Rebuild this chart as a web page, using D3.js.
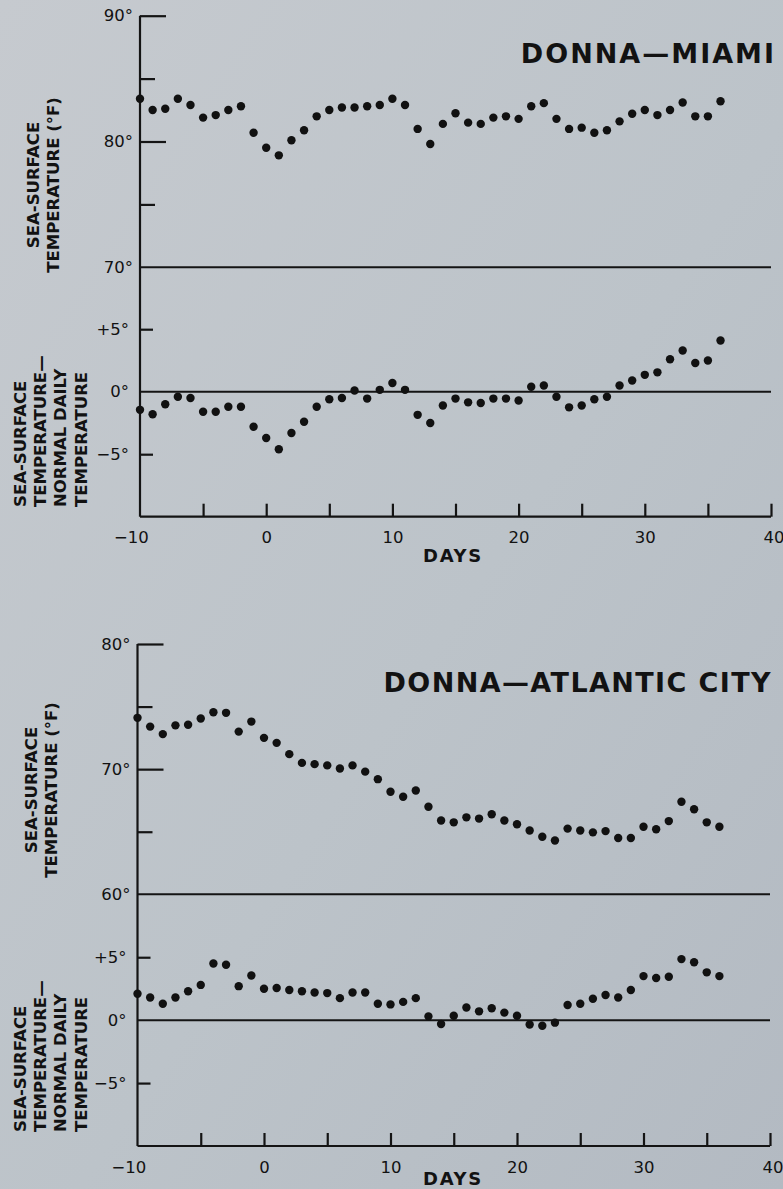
<!DOCTYPE html>
<html>
<head>
<meta charset="utf-8">
<script src="https://cdn.jsdelivr.net/npm/d3@7"></script>
<style>
  html, body { margin: 0; padding: 0; background: #bec4ca; }
  svg { display: block; }
  text { font-family: "DejaVu Sans", "Liberation Sans", Arial, sans-serif; fill: #121212; }
</style>
</head>
<body>
<svg id="chart" width="783" height="1189"></svg>
<script>
// Days relative to landfall of Hurricane Donna
const days = [-10, -9, -8, -7, -6, -5, -4, -3, -2, -1, 0, 1, 2, 3, 4, 5, 6, 7, 8, 9, 10,
  11, 12, 13, 14, 15, 16, 17, 18, 19, 20, 21, 22, 23, 24, 25, 26, 27, 28, 29, 30,
  31, 32, 33, 34, 35, 36];

// Miami: sea-surface temperature (°F) and departure from normal daily temperature
const miamiTemp = [83.4, 82.5, 82.6, 83.4, 82.9, 81.9, 82.1, 82.5, 82.8, 80.7, 79.5,
  78.9, 80.1, 80.9, 82.0, 82.5, 82.7, 82.7, 82.8, 82.9, 83.4,
  82.9, 81.0, 79.8, 81.4, 82.25, 81.5, 81.4, 81.9, 82.0, 81.8,
  82.8, 83.05, 81.8, 81.0, 81.1, 80.7, 80.9, 81.6, 82.2, 82.5,
  82.1, 82.5, 83.1, 82.0, 82.0, 83.2];
const miamiAnom = [-1.45, -1.8, -1.0, -0.4, -0.5, -1.6, -1.6, -1.2, -1.2, -2.8, -3.7,
  -4.6, -3.3, -2.4, -1.2, -0.6, -0.5, 0.1, -0.55, 0.15, 0.7,
  0.15, -1.85, -2.5, -1.1, -0.55, -0.85, -0.9, -0.55, -0.55, -0.7,
  0.4, 0.5, -0.4, -1.25, -1.1, -0.6, -0.4, 0.5, 0.9, 1.35,
  1.55, 2.6, 3.3, 2.3, 2.5, 4.1];

// Atlantic City: sea-surface temperature (°F) and departure from normal
const atlanticTemp = [74.1, 73.4, 72.8, 73.5, 73.55, 74.05, 74.55, 74.5, 73.0, 73.8, 72.5,
  72.1, 71.2, 70.5, 70.4, 70.3, 70.05, 70.3, 69.8, 69.2, 68.2,
  67.8, 68.3, 67.0, 65.9, 65.75, 66.15, 66.05, 66.4, 65.9, 65.6,
  65.1, 64.6, 64.3, 65.25, 65.1, 64.95, 65.05, 64.5, 64.5, 65.4,
  65.2, 65.85, 67.4, 66.8, 65.75, 65.4];
const atlanticAnom = [2.1, 1.8, 1.3, 1.8, 2.3, 2.8, 4.5, 4.4, 2.7, 3.55, 2.5,
  2.55, 2.4, 2.3, 2.2, 2.15, 1.75, 2.2, 2.2, 1.3, 1.25,
  1.45, 1.75, 0.3, -0.3, 0.35, 1.0, 0.7, 0.95, 0.6, 0.35,
  -0.35, -0.45, -0.2, 1.2, 1.3, 1.7, 2.0, 1.8, 2.4, 3.5,
  3.35, 3.45, 4.85, 4.6, 3.8, 3.5];

// Axis ticks and labels
const dayTicks = [-5, 0, 5, 10, 15, 20, 25, 30, 35, 40];
const dayLabelValues = [-10, 0, 10, 20, 30, 40];
const miamiMajorTicks = [80, 90];
const miamiMinorTicks = [75, 85];
const miamiTempLabels = [70, 80, 90];
const atlanticMajorTicks = [70, 80];
const atlanticMinorTicks = [65, 75];
const atlanticTempLabels = [60, 70, 80];
const anomTicks = [-5, 5];
const anomLabels = [-5, 0, 5];

const fmtDay = d => d < 0 ? "\u2212" + Math.abs(d) : String(d);
const fmtTemp = d => d + "\u00B0";
const fmtAnom = d => d > 0 ? "+" + d + "\u00B0" : d < 0 ? "\u2212" + Math.abs(d) + "\u00B0" : "0\u00B0";

const svg = d3.select("#chart");

// soft paper-like background
const defs = svg.append("defs");
const grad = defs.append("linearGradient").attr("id", "paper")
  .attr("x1", "0").attr("y1", "0").attr("x2", "1").attr("y2", "1");
grad.append("stop").attr("offset", "0%").attr("stop-color", "#c6cacf");
grad.append("stop").attr("offset", "55%").attr("stop-color", "#bcc3c9");
grad.append("stop").attr("offset", "100%").attr("stop-color", "#b3bac2");
svg.append("rect").attr("width", 783).attr("height", 1189).attr("fill", "url(#paper)");

const panels = [
  {
    title: "DONNA\u2014MIAMI", temp: miamiTemp, anom: miamiAnom,
    tempDomain: [70, 90], majors: miamiMajorTicks, minors: miamiMinorTicks, tempLabels: miamiTempLabels,
    xRange: [140, 771], tempRange: [267.3, 15.7], anomRange: [516.7, 266.7],
    titleX: 776, titleY: 63, titleSpacing: 2,
    tempLabelX: [38.5, 58.5], tempLabelY: 185,
    anomLabelX: [26, 46, 66, 87], anomLabelY: 507,
    daysY: 562
  },
  {
    title: "DONNA\u2014ATLANTIC CITY", temp: atlanticTemp, anom: atlanticAnom,
    tempDomain: [60, 80], majors: atlanticMajorTicks, minors: atlanticMinorTicks, tempLabels: atlanticTempLabels,
    xRange: [137.5, 770], tempRange: [894.3, 644], anomRange: [1146, 894.3],
    titleX: 772, titleY: 692, titleSpacing: 1.4,
    tempLabelX: [37, 56.5], tempLabelY: 790,
    anomLabelX: [26, 46, 66, 87], anomLabelY: 1132,
    daysY: 1185
  }
];

const stroke = "#141414";

panels.forEach(p => {
  const x = d3.scaleLinear().domain([-10, 40]).range(p.xRange);
  const yT = d3.scaleLinear().domain(p.tempDomain).range(p.tempRange);
  const yA = d3.scaleLinear().domain([-10, 10]).range(p.anomRange);
  const g = svg.append("g");
  const x0 = x(-10);

  // vertical axis spanning both plots
  g.append("line")
    .attr("x1", x0).attr("x2", x0)
    .attr("y1", yT(p.tempDomain[1])).attr("y2", yA(-10))
    .attr("stroke", stroke).attr("stroke-width", 2.2);

  // separating line at the temperature baseline and zero-anomaly line
  g.append("line")
    .attr("x1", x0).attr("x2", x(40))
    .attr("y1", yT(p.tempDomain[0])).attr("y2", yT(p.tempDomain[0]))
    .attr("stroke", stroke).attr("stroke-width", 2);
  g.append("line")
    .attr("x1", x0).attr("x2", x(40))
    .attr("y1", yA(0)).attr("y2", yA(0))
    .attr("stroke", stroke).attr("stroke-width", 2);

  // temperature ticks (long majors, short minors)
  const majorAxis = d3.axisRight(yT).tickValues(p.majors).tickSize(26).tickFormat("");
  const minorAxis = d3.axisRight(yT).tickValues(p.minors).tickSize(15).tickFormat("");
  [majorAxis, minorAxis].forEach(ax => {
    const a = g.append("g").attr("transform", `translate(${x0},0)`).call(ax);
    a.select(".domain").remove();
    a.selectAll("line").attr("stroke", stroke).attr("stroke-width", 2.2);
  });
  const tempLab = g.append("g").attr("transform", `translate(${x0},0)`)
    .call(d3.axisLeft(yT).tickValues(p.tempLabels).tickSize(0).tickPadding(7).tickFormat(fmtTemp));
  tempLab.select(".domain").remove();
  tempLab.selectAll("text").attr("font-size", 16.5).attr("fill", "#121212").attr("font-family", null);

  // anomaly ticks and labels
  const anomAxis = g.append("g").attr("transform", `translate(${x0},0)`)
    .call(d3.axisRight(yA).tickValues(anomTicks).tickSize(13).tickFormat(""));
  anomAxis.select(".domain").remove();
  anomAxis.selectAll("line").attr("stroke", stroke).attr("stroke-width", 2.2);
  const anomLab = g.append("g").attr("transform", `translate(${x0},0)`)
    .call(d3.axisLeft(yA).tickValues(anomLabels).tickSize(0).tickPadding(11).tickFormat(fmtAnom));
  anomLab.select(".domain").remove();
  anomLab.selectAll("text").attr("font-size", 16.5).attr("fill", "#121212").attr("font-family", null);

  // day axis with upward ticks
  const xAxis = g.append("g").attr("transform", `translate(0,${yA(-10)})`)
    .call(d3.axisBottom(x).tickValues(dayTicks).tickSizeInner(-13).tickSizeOuter(0).tickFormat(""));
  xAxis.select(".domain").attr("stroke", stroke).attr("stroke-width", 2.2)
    .attr("d", `M${x0},0H${x(40)}`);
  xAxis.selectAll("line").attr("stroke", stroke).attr("stroke-width", 2.2);
  const xLab = g.append("g").attr("transform", `translate(0,${yA(-10)})`)
    .call(d3.axisBottom(x).tickValues(dayLabelValues).tickSize(0).tickPadding(15).tickFormat(fmtDay));
  xLab.select(".domain").remove();
  xLab.selectAll("text").attr("font-size", 16.5).attr("fill", "#121212").attr("font-family", null)
    .attr("dx", d => d < 0 ? "-0.55em" : d === 40 ? "0.15em" : 0);

  g.append("text")
    .attr("x", 453).attr("y", p.daysY)
    .attr("text-anchor", "middle").attr("font-size", 18).attr("font-weight", 700)
    .attr("letter-spacing", 1.7)
    .text("DAYS");

  // title
  g.append("text")
    .attr("x", p.titleX).attr("y", p.titleY)
    .attr("text-anchor", "end").attr("font-size", 27).attr("font-weight", 700)
    .attr("letter-spacing", p.titleSpacing)
    .text(p.title);

  // rotated y labels
  const tempLines = ["SEA-SURFACE", "TEMPERATURE (\u00B0F)"];
  tempLines.forEach((t, i) => {
    g.append("text")
      .attr("transform", `translate(${p.tempLabelX[i]},${p.tempLabelY}) rotate(-90)`)
      .attr("text-anchor", "middle").attr("font-size", 16.5).attr("font-weight", 700)
      .text(t);
  });
  const anomLines = ["SEA-SURFACE", "TEMPERATURE\u2014", "NORMAL DAILY", "TEMPERATURE"];
  anomLines.forEach((t, i) => {
    g.append("text")
      .attr("transform", `translate(${p.anomLabelX[i]},${p.anomLabelY}) rotate(-90)`)
      .attr("text-anchor", "start").attr("font-size", 16.5).attr("font-weight", 700)
      .text(t);
  });

  // data points
  g.append("g").selectAll("circle").data(days)
    .join("circle")
    .attr("cx", d => x(d))
    .attr("cy", (d, i) => yT(p.temp[i]))
    .attr("r", 4.2).attr("fill", "#111");
  g.append("g").selectAll("circle").data(days)
    .join("circle")
    .attr("cx", d => x(d))
    .attr("cy", (d, i) => yA(p.anom[i]))
    .attr("r", 4.2).attr("fill", "#111");
});
</script>
</body>
</html>
